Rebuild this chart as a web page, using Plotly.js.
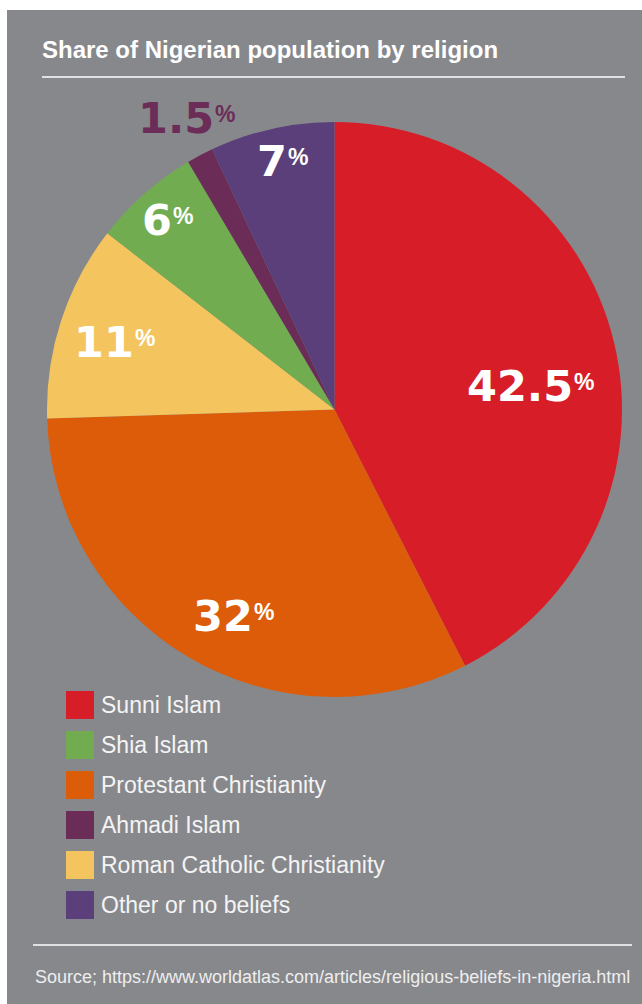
<!DOCTYPE html>
<html>
<head>
<meta charset="utf-8">
<script src="https://cdn.plot.ly/plotly-3.0.1.min.js"></script>
<style>html,body{margin:0;padding:0;background:#fff;}#chart{width:642px;height:1004px;}</style>
</head>
<body>
<div id="chart"></div>
<script>
// Data (slice order, clockwise from 12 o'clock)
const religions = ["Sunni Islam", "Protestant Christianity", "Roman Catholic Christianity", "Shia Islam", "Ahmadi Islam", "Other or no beliefs"];
const shares = [42.5, 32, 11, 6, 1.5, 7];
const colors = ["#d71e28", "#dd5c0a", "#f4c55e", "#72ac51", "#6b2d57", "#5a3f7a"];
// Legend order as shown
const legendOrder = ["Sunni Islam", "Shia Islam", "Protestant Christianity", "Ahmadi Islam", "Roman Catholic Christianity", "Other or no beliefs"];
// Label placement (pixels: left x, cap-centre y) and colour, per slice
const labelPos = [[466, 386], [192, 616], [73, 342], [141, 220], [137, 118], [256, 161]];
const labelColor = ["#ffffff", "#ffffff", "#ffffff", "#ffffff", "#6b2d57", "#ffffff"];

const W = 642, H = 1004;
const px = x => x / W;
const py = y => 1 - y / H;

const cx = 334.5, cy = 409.5, R = 287.5;

const trace = {
  type: "pie",
  labels: religions,
  values: shares,
  sort: false,
  direction: "clockwise",
  rotation: 0,
  marker: {colors: colors, line: {width: 0}},
  textinfo: "none",
  hoverinfo: "label+value",
  showlegend: false,
  domain: {x: [px(cx - R), px(cx + R)], y: [py(cy + R), py(cy - R)]}
};

const shapes = [
  {type: "rect", xref: "paper", yref: "paper", x0: px(7), x1: px(642), y0: py(1004), y1: py(10),
   fillcolor: "#87888c", line: {width: 0}, layer: "below"},
  {type: "line", xref: "paper", yref: "paper", x0: px(42), x1: px(625), y0: py(77), y1: py(77),
   line: {color: "#ffffff", width: 1.5}},
  {type: "line", xref: "paper", yref: "paper", x0: px(33), x1: px(632), y0: py(945), y1: py(945),
   line: {color: "#ffffff", width: 1.5}}
];

const annotations = [
  {xref: "paper", yref: "paper", x: px(40), y: py(50), xanchor: "left", yanchor: "middle",
   text: "<b>Share of Nigerian population by religion</b>", showarrow: false,
   font: {family: "Liberation Sans, Arial, sans-serif", size: 24, color: "#ffffff"}},
  {xref: "paper", yref: "paper", x: px(33), y: py(977), xanchor: "left", yanchor: "middle",
   text: "Source; https://www.worldatlas.com/articles/religious-beliefs-in-nigeria.html", showarrow: false,
   font: {family: "Liberation Sans, Arial, sans-serif", size: 18, color: "#eeeeee"}}
];

// Slice value labels
shares.forEach((v, i) => {
  const [lx, ly] = labelPos[i];
  const numFont = {family: "DejaVu Sans, sans-serif", size: 43, color: labelColor[i], weight: 700};
  annotations.push({xref: "paper", yref: "paper", x: px(lx), y: py(ly), xanchor: "left", yanchor: "middle",
    text: "<b>" + v + "</b>", showarrow: false, font: numFont, borderpad: 0});
});

// Legend built from the legend order
legendOrder.forEach((name, k) => {
  const i = religions.indexOf(name);
  const top = 691 + k * 40;
  shapes.push({type: "rect", xref: "paper", yref: "paper", x0: px(66), x1: px(94), y0: py(top + 28), y1: py(top),
    fillcolor: colors[i], line: {width: 0}});
  annotations.push({xref: "paper", yref: "paper", x: px(99), y: py(top + 14), xanchor: "left", yanchor: "middle",
    text: name, showarrow: false, font: {family: "Liberation Sans, Arial, sans-serif", size: 23, color: "#f4f4f4"}});
});

const layout = {
  width: W, height: H,
  margin: {l: 0, r: 0, t: 0, b: 0},
  paper_bgcolor: "#ffffff",
  plot_bgcolor: "rgba(0,0,0,0)",
  showlegend: false,
  shapes: shapes,
  annotations: annotations
};

Plotly.newPlot("chart", [trace], layout, {displayModeBar: false, staticPlot: true}).then(gd => {
  // Add superscript % signs positioned after each rendered number
  const extra = [];
  shares.forEach((v, i) => {
    const idx = 2 + i;
    const el = gd.querySelectorAll(".annotation")[idx];
    const w = el ? el.querySelector("text").getBBox().width : 60;
    const [lx, ly] = labelPos[i];
    extra.push({xref: "paper", yref: "paper", x: px(lx + w + 1), y: py(ly - 18), xanchor: "left", yanchor: "top",
      text: "<b>%</b>", showarrow: false, borderpad: 0,
      font: {family: "Liberation Sans, Arial, sans-serif", size: 23, color: labelColor[i]}});
  });
  Plotly.relayout(gd, {annotations: annotations.concat(extra)});
});
</script>
</body>
</html>
